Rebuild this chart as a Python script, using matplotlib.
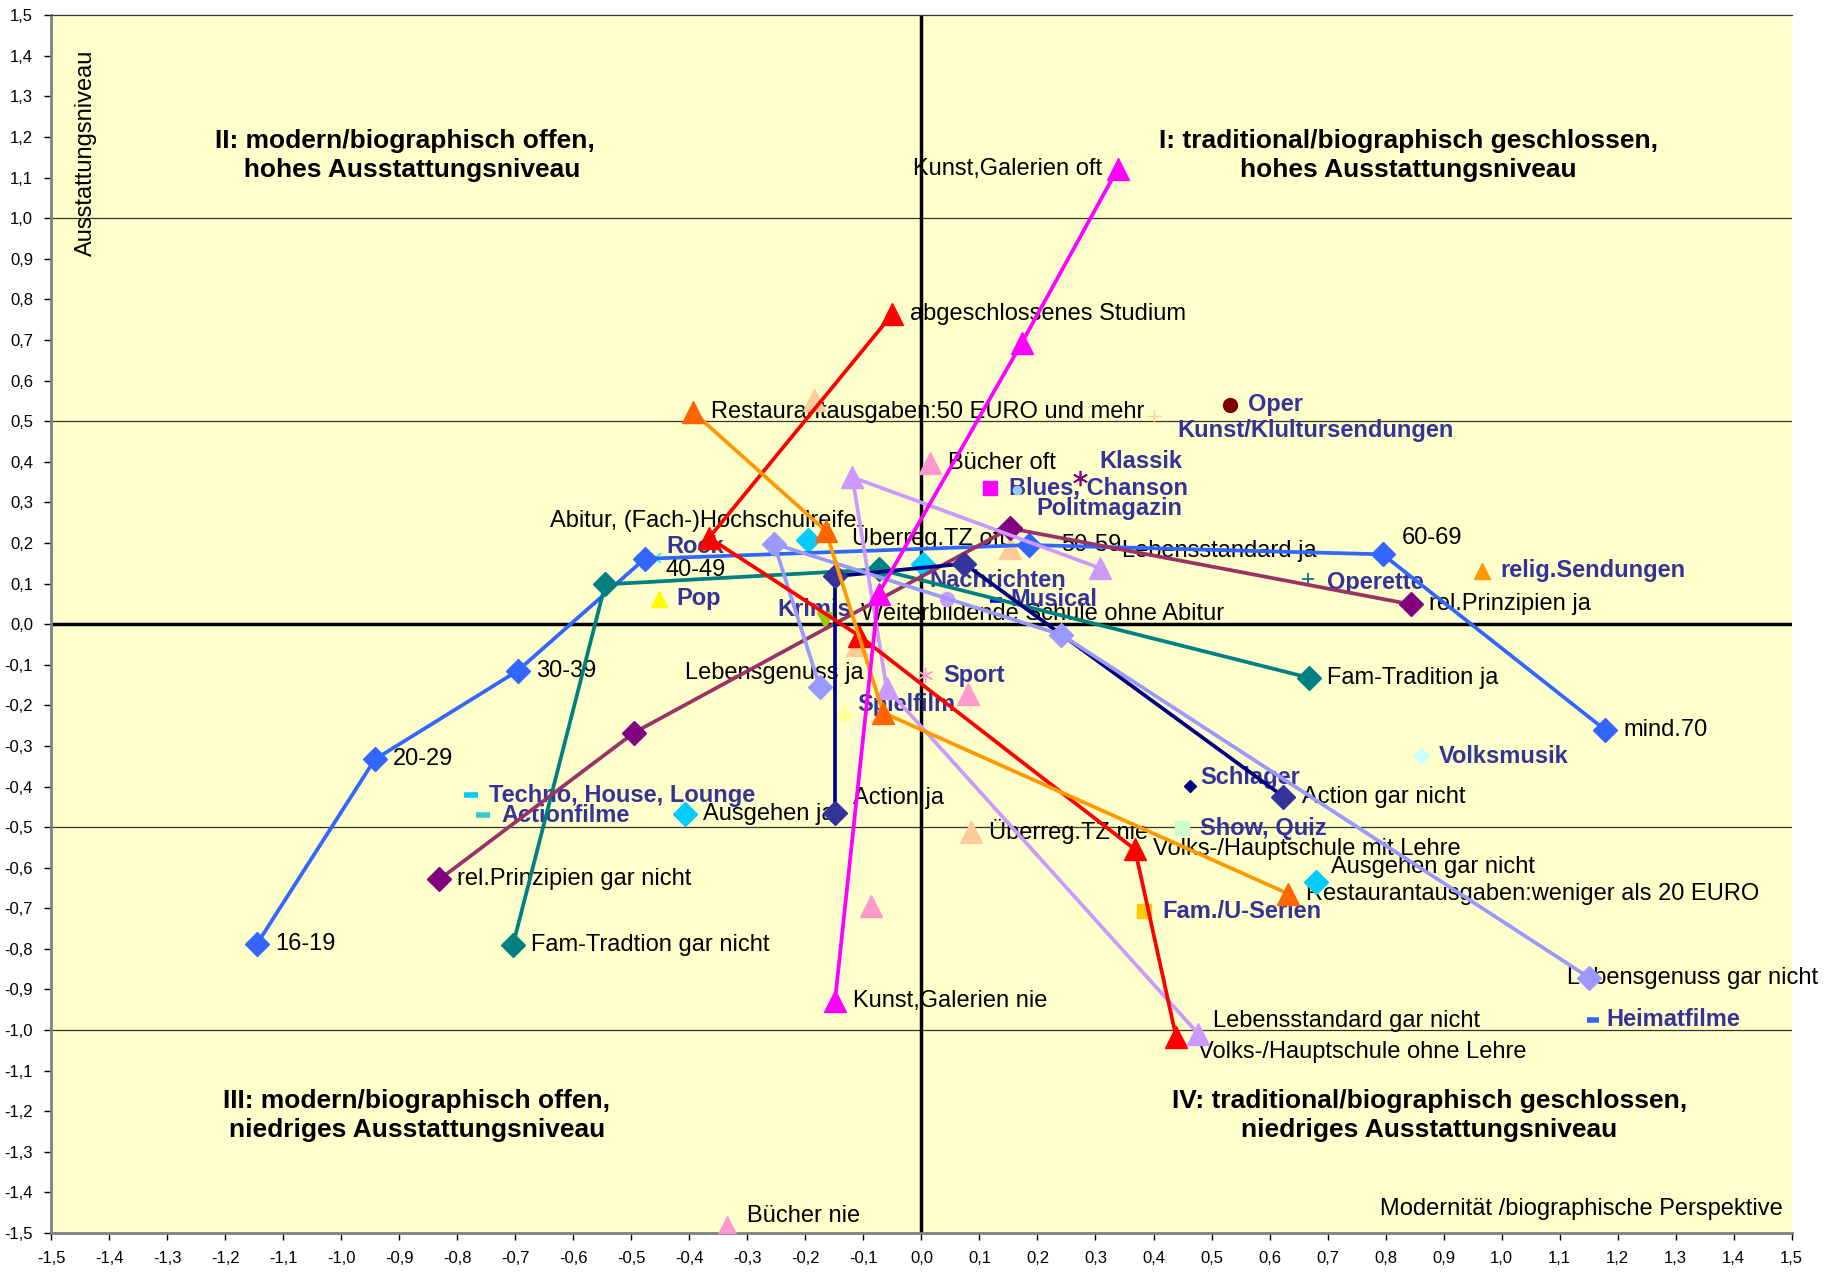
import matplotlib
matplotlib.use("Agg")
import matplotlib.pyplot as plt

plt.rcParams['font.family'] = ['Liberation Sans', 'DejaVu Sans']

# --- connected series (category points) ---
age_x = [-1.145, -0.942, -0.696, -0.477, 0.185, 0.795, 1.179]
age_y = [-0.787, -0.333, -0.115, 0.161, 0.195, 0.172, -0.261]
age_lab = ['16-19', '20-29', '30-39', '40-49', '50-59', '60-69', 'mind.70']

fam_x = [-0.704, -0.545, -0.074, 0.668]
fam_y = [-0.790, 0.098, 0.135, -0.132]
fam_lab = ['Fam-Tradtion gar nicht', '', '', 'Fam-Tradition ja']

rel_x = [-0.831, -0.495, 0.153, 0.843]
rel_y = [-0.629, -0.267, 0.236, 0.049]
rel_lab = ['rel.Prinzipien gar nicht', '', '', 'rel.Prinzipien ja']

act_x = [-0.149, -0.149, 0.074, 0.624]
act_y = [-0.466, 0.118, 0.149, -0.425]
act_lab = ['Action ja', '', '', 'Action gar nicht']

gen_x = [-0.175, -0.254, 0.241, 1.151]
gen_y = [-0.155, 0.198, -0.026, -0.871]
gen_lab = ['Lebensgenuss ja', '', '', 'Lebensgenuss gar nicht']

std_x = [0.308, -0.119, -0.060, 0.477]
std_y = [0.138, 0.362, -0.158, -1.009]
std_lab = ['Lebensstandard ja', '', '', 'Lebensstandard gar nicht']

edu_x = [-0.050, -0.366, -0.107, 0.368, 0.439]
edu_y = [0.764, 0.213, -0.029, -0.555, -1.017]
edu_lab = ['abgeschlossenes Studium', 'Abitur, (Fach-)Hochschulreife',
           'Weiterbildende Schule ohne Abitur', 'Volks-/Hauptschule mit Lehre',
           'Volks-/Hauptschule ohne Lehre']

rest_x = [-0.394, -0.165, -0.066, 0.632]
rest_y = [0.523, 0.230, -0.218, -0.664]
rest_lab = ['Restaurantausgaben:50 EURO und mehr', '', '',
            'Restaurantausgaben:weniger als 20 EURO']

kunst_x = [0.338, 0.173, -0.074, -0.149]
kunst_y = [1.121, 0.693, 0.075, -0.928]
kunst_lab = ['Kunst,Galerien oft', '', '', 'Kunst,Galerien nie']

# --- unconnected category points ---
tz_x = [0.153, -0.185, -0.111, 0.085]
tz_y = [0.187, 0.552, -0.052, -0.511]
tz_lab = ['Überreg.TZ oft', '', '', 'Überreg.TZ nie']

buch_x = [0.014, 0.080, -0.087, -0.336]
buch_y = [0.397, -0.172, -0.695, -1.486]
buch_lab = ['Bücher oft', '', '', 'Bücher nie']

aus_x = [-0.408, -0.195, 0.002, 0.680]
aus_y = [-0.468, 0.207, 0.149, -0.635]
aus_lab = ['Ausgehen ja', '', '', 'Ausgehen gar nicht']

# --- music / TV genres ---
genres = ['Oper', 'Kunst/Klultursendungen', 'Klassik', 'Blues, Chanson', 'Politmagazin',
          'Rock', 'Pop', 'Krimis', 'Nachrichten', 'Musical', 'Sport', 'Spielfilm',
          'Techno, House, Lounge', 'Actionfilme', 'Schlager', 'Show, Quiz', 'Volksmusik',
          'Operette', 'relig.Sendungen', 'Fam./U-Serien', 'Heimatfilme']
genre_x = [0.531, 0.400, 0.274, 0.119, 0.165, -0.457, -0.453, -0.167, 0.044, 0.129,
           0.006, -0.133, -0.777, -0.755, 0.463, 0.449, 0.861, 0.666, 0.966, 0.384, 1.157]
genre_y = [0.540, 0.514, 0.359, 0.336, 0.330, 0.164, 0.063, 0.011, 0.063, 0.060,
           -0.126, -0.216, -0.422, -0.471, -0.399, -0.503, -0.325, 0.112, 0.132, -0.707, -0.974]

# styles for genre markers: (marker, color, size, edge width)
genre_style = {
    'Oper': ('o', '#800000', 10, 1), 'Kunst/Klultursendungen': ('+', '#FFCC99', 10, 1),
    'Klassik': ((6, 2, 0), '#800080', 11, 1.2), 'Blues, Chanson': ('s', '#FF00FF', 10, 1),
    'Politmagazin': ('o', '#99CCFF', 6, 1), 'Rock': ('x', '#00FFFF', 7, 1.2),
    'Pop': ('^', '#FFFF00', 11, 1), 'Krimis': ('v', '#99CC00', 11, 1),
    'Nachrichten': ('o', '#CC99FF', 10, 1), 'Musical': ('_', '#0000FF', 8, 4),
    'Sport': ((6, 2, 0), '#FF99CC', 11, 1), 'Spielfilm': ('^', '#FFFF99', 11, 1),
    'Techno, House, Lounge': ('_', '#00CCFF', 10, 4), 'Actionfilme': ('_', '#33CCCC', 10, 4),
    'Schlager': ('D', '#000080', 6, 1), 'Show, Quiz': ('s', '#CCFFCC', 10, 1),
    'Volksmusik': ('D', '#CCFFFF', 8, 1), 'Operette': ('+', '#008080', 9, 1.3),
    'relig.Sendungen': ('^', '#FF9900', 11, 1), 'Fam./U-Serien': ('s', '#FFCC00', 10, 1),
    'Heimatfilme': ('_', '#3366FF', 8, 4),
}
# label offsets in points (dx, dy)
genre_off = {
    'Kunst/Klultursendungen': (17, -11), 'Klassik': (14, 12), 'Politmagazin': (14, -13),
    'Rock': (7, 8), 'Krimis': (-34, 7), 'Nachrichten': (-13, 13), 'Musical': (10, 0),
    'Spielfilm': (9, 5), 'Schlager': (7, 6), 'Operette': (14, -3), 'Heimatfilme': (10, 0),
}
label_off = {
    '60-69': (14, 12, 'left'), '40-49': (15, -8, 'left'), '50-59': (23, 0, 'left'),
    'Action ja': (13, 11, 'left'), 'Lebensgenuss ja': (-33, 10, 'center'),
    'Lebensgenuss gar nicht': (-16, 0, 'left'), 'Lebensstandard ja': (16, 12, 'left'),
    'Lebensstandard gar nicht': (11, 9, 'left'),
    'Abitur, (Fach-)Hochschulreife': (-4, 12, 'center'),
    'Weiterbildende Schule ohne Abitur': (1, 16, 'left'),
    'Volks-/Hauptschule ohne Lehre': (16, -11, 'left'), 'Bücher nie': (15, 8, 'left'),
    'Kunst,Galerien oft': (-11, 0, 'right'), 'Überreg.TZ oft': (-3, 8, 'right'),
    'Ausgehen gar nicht': (11, 11, 'left'),
}

fig = plt.figure(figsize=(18.29, 12.73), dpi=100)
ax = fig.add_axes([0.028, 0.0314, 0.9516, 0.9566])
ax.set_facecolor('#FFFFCC')
ax.set_xlim(-1.5, 1.5)
ax.set_ylim(-1.5, 1.5)

for yy in [-1.0, -0.5, 0.5, 1.0]:
    ax.axhline(yy, color='#333333', lw=0.9, zorder=1)
ax.axhline(0, color='black', lw=2.5, zorder=1)
ax.axvline(0, color='black', lw=2.5, zorder=1)


def labels(xs, ys, labs):
    for x, y, t in zip(xs, ys, labs):
        if not t:
            continue
        dx, dy, ha = label_off.get(t, (13, 0, 'left'))
        ax.annotate(t, (x, y), xytext=(dx, dy), textcoords='offset points',
                    ha=ha, va='center', fontsize=17, color='black', zorder=2)


series = [
    (age_x, age_y, age_lab, '#3366FF', 'D', '#3366FF', 12),
    (fam_x, fam_y, fam_lab, '#008080', 'D', '#008080', 12),
    (rel_x, rel_y, rel_lab, '#993366', 'D', '#800080', 12),
    (act_x, act_y, act_lab, '#000080', 'D', '#333399', 12),
    (gen_x, gen_y, gen_lab, '#9999FF', 'D', '#9999FF', 12),
    (std_x, std_y, std_lab, '#CC99FF', '^', '#CC99FF', 16),
    (edu_x, edu_y, edu_lab, '#FF0000', '^', '#FF0000', 16),
    (rest_x, rest_y, rest_lab, '#FF9900', '^', '#FF6600', 16),
    (kunst_x, kunst_y, kunst_lab, '#FF00FF', '^', '#FF00FF', 16),
]
for xs, ys, labs, lc, m, mc, ms in series:
    ax.plot(xs, ys, color=lc, lw=2.7, marker=m, mfc=mc, mec=mc, ms=ms, zorder=4)
    labels(xs, ys, labs)

points = [
    (tz_x, tz_y, tz_lab, '^', '#FFCC99', 16),
    (buch_x, buch_y, buch_lab, '^', '#FF99CC', 16),
    (aus_x, aus_y, aus_lab, 'D', '#00CCFF', 12),
]
for xs, ys, labs, m, mc, ms in points:
    ax.plot(xs, ys, ls='none', marker=m, mfc=mc, mec=mc, ms=ms, zorder=3)
    labels(xs, ys, labs)

for g, x, y in zip(genres, genre_x, genre_y):
    m, c, ms, mew = genre_style[g]
    ax.plot([x], [y], ls='none', marker=m, color=c, mfc=c, mec=c, ms=ms, mew=mew, zorder=3)
    dx, dy = genre_off.get(g, (13, 0))
    ax.annotate(g, (x, y), xytext=(dx, dy), textcoords='offset points', ha='left',
                va='center', fontsize=17, fontweight='bold', color='#333399', zorder=2)

# quadrant titles
qkw = dict(ha='center', va='center', fontsize=19, fontweight='bold', linespacing=1.25)
ax.text(-0.89, 1.155, 'II: modern/biographisch offen,\n  hohes Ausstattungsniveau', **qkw)
ax.text(0.84, 1.155, 'I: traditional/biographisch geschlossen,\nhohes Ausstattungsniveau', **qkw)
ax.text(-0.87, -1.21, 'III: modern/biographisch offen,\nniedriges Ausstattungsniveau', **qkw)
ax.text(0.875, -1.21, 'IV: traditional/biographisch geschlossen,\nniedriges Ausstattungsniveau', **qkw)

ax.text(-1.44, 1.16, 'Ausstattungsniveau', rotation=90, ha='center', va='center', fontsize=17)
ax.text(1.485, -1.44, 'Modernität /biographische Perspektive', ha='right', va='center',
        fontsize=17)

ticks = [round(-1.5 + 0.1 * i, 1) for i in range(31)]
ax.set_xticks(ticks)
ax.set_yticks(ticks)
fmt = lambda v: ('%.1f' % v).replace('.', ',').replace('-0,0', '0,0')
ax.set_xticklabels([fmt(t) for t in ticks], fontsize=12)
ax.set_yticklabels([fmt(t) for t in ticks], fontsize=12)
ax.tick_params(direction='out', length=5, width=1, color='black', pad=8)
for s in ['left', 'bottom']:
    ax.spines[s].set_color('#808080')
    ax.spines[s].set_linewidth(2)
ax.spines['right'].set_visible(False)
ax.spines['top'].set_color('#333333')
ax.spines['top'].set_linewidth(0.9)

fig.savefig('out.png', dpi=100, facecolor='white')
